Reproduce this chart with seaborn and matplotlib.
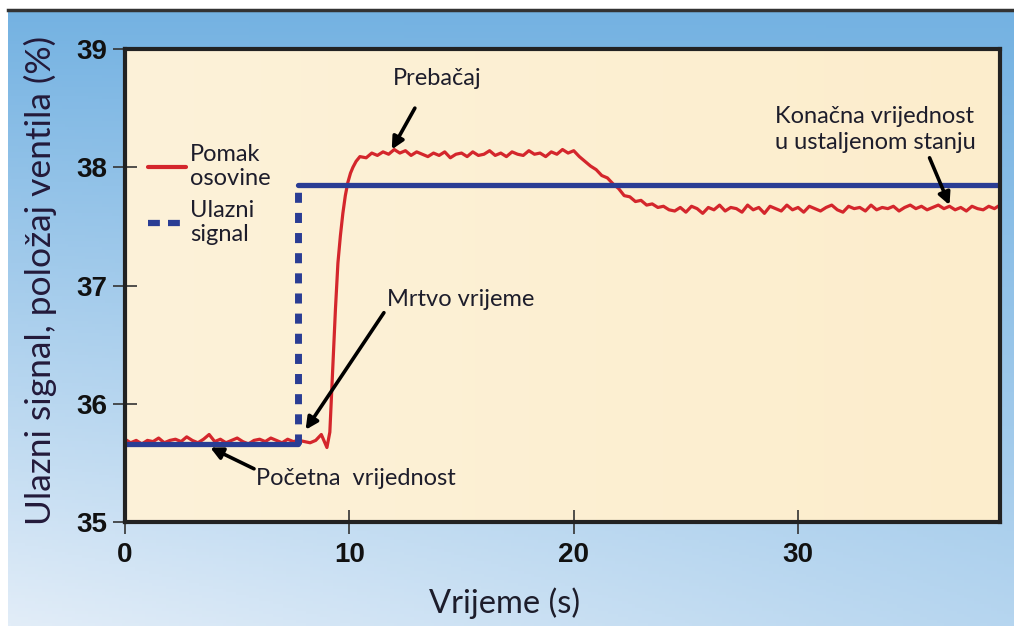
import numpy as np
import pandas as pd
import seaborn as sns
import matplotlib.pyplot as plt
from matplotlib.lines import Line2D
from matplotlib.colors import to_rgb

# measured valve position (red), sampled by hand from the trace
base_v = [35.70, 35.67, 35.69, 35.66, 35.69, 35.68, 35.71, 35.67, 35.69, 35.70,
          35.68, 35.72, 35.69, 35.67, 35.70, 35.74, 35.68, 35.70, 35.67, 35.69,
          35.71, 35.68, 35.66, 35.69, 35.70, 35.68, 35.71, 35.69, 35.67, 35.70,
          35.68, 35.69, 35.68, 35.67, 35.69, 35.74, 35.63]
rise_t = [9.13, 9.27, 9.38, 9.49, 9.60, 9.71, 9.82, 9.93, 10.05, 10.16, 10.30, 10.47]
rise_v = [35.76, 36.34, 36.80, 37.19, 37.42, 37.61, 37.76, 37.87, 37.95, 38.00, 38.05, 38.09]
top_v = [38.08, 38.12, 38.10, 38.13, 38.11, 38.15, 38.12, 38.14, 38.10, 38.13,
         38.11, 38.09, 38.12, 38.10, 38.13, 38.08, 38.11, 38.12, 38.09, 38.13,
         38.10, 38.11, 38.14, 38.10, 38.12, 38.09, 38.13, 38.11, 38.10, 38.14,
         38.11, 38.12, 38.09, 38.13, 38.11, 38.15, 38.12, 38.14, 38.09]
fall_v = [38.05, 38.01, 37.98, 37.93, 37.91, 37.86, 37.82, 37.76, 37.75, 37.71,
          37.72, 37.68, 37.69, 37.66, 37.67, 37.64]
end_v = [37.63, 37.66, 37.62, 37.67, 37.65, 37.61, 37.66, 37.64, 37.68, 37.63,
         37.66, 37.65, 37.62, 37.68, 37.64, 37.66, 37.61, 37.67, 37.65, 37.63,
         37.68, 37.64, 37.66, 37.62, 37.67, 37.65, 37.63, 37.66, 37.68, 37.64,
         37.62, 37.67, 37.65, 37.66, 37.63, 37.68, 37.64, 37.66, 37.65, 37.67,
         37.63, 37.66, 37.68, 37.65, 37.67, 37.64, 37.66, 37.68, 37.65, 37.67,
         37.64, 37.66, 37.63, 37.67, 37.65, 37.64, 37.67, 37.65, 37.68]

# input signal (blue step)
step_time = 7.7
sig_before = 35.66
sig_after = 37.85
t_end = 39.0

x_ticks = [0, 10, 20, 30]
y_ticks = [35, 36, 37, 38, 39]

red_t = np.concatenate([
    np.linspace(0, 9.0, len(base_v)),
    rise_t,
    np.linspace(10.75, 20.25, len(top_v)),
    np.linspace(20.5, 24.25, len(fall_v)),
    np.linspace(24.5, t_end, len(end_v)),
])
red_v = np.concatenate([base_v, rise_v, top_v, fall_v, end_v])
valve = pd.DataFrame({"t": red_t, "v": red_v})

RED = "#d4262c"
BLUE = "#2a3d94"
TXT = "#1d1d2b"
FS = 17

sns.set_theme(style="white")
plt.rcParams["font.family"] = ["Lato", "DejaVu Sans"]

fig = plt.figure(figsize=(10.14, 6.3), dpi=100)

# blue gradient backdrop
yy, xx = np.mgrid[0:1:200j, 0:1:300j]
t = np.clip(yy * (0.6 + 0.4 * (1 - xx)), 0, 1)[..., None]
grad = (1 - t) * np.array(to_rgb("#74b2e2")) + t * np.array(to_rgb("#e2edf8"))
bg = fig.add_axes([8 / 1014, 4 / 630, 1006 / 1014, 616 / 630], zorder=0)
bg.imshow(grad, aspect="auto", extent=[0, 1, 0, 1])
bg.set_xticks([])
bg.set_yticks([])
for s in ["left", "right", "bottom"]:
    bg.spines[s].set_visible(False)
bg.spines["top"].set_linewidth(2.5)
bg.spines["top"].set_color("#333333")

pos = [125 / 1014, 108 / 630, 875 / 1014, 473 / 630]

# cream plot area
pa = fig.add_axes(pos, zorder=1)
cream = np.linspace(0, 1, 300)[None, :, None]
cgrad = (1 - cream) * np.array(to_rgb("#fdf2d9")) + cream * np.array(to_rgb("#fcedcc"))
pa.imshow(np.repeat(cgrad, 10, axis=0), aspect="auto", extent=[0, 1, 0, 1])
pa.axis("off")

ax = fig.add_axes(pos, zorder=2)
ax.patch.set_alpha(0)

sns.lineplot(data=valve, x="t", y="v", ax=ax, color=RED, lw=2.3,
             estimator=None, sort=False)
sns.lineplot(x=[0, step_time], y=[sig_before, sig_before], ax=ax,
             color=BLUE, lw=3.8, estimator=None)
sns.lineplot(x=[step_time, step_time], y=[sig_before, sig_after], ax=ax,
             color=BLUE, lw=5, linestyle=(0, (1.45, 1.45)), estimator=None)
sns.lineplot(x=[step_time, t_end], y=[sig_after, sig_after], ax=ax,
             color=BLUE, lw=3.8, estimator=None)

ax.set_xlim(0, t_end)
ax.set_ylim(35, 39)
ax.set_xticks(x_ticks)
ax.set_yticks(y_ticks)
for lab in ax.get_xticklabels() + ax.get_yticklabels():
    lab.set_family(["Liberation Sans", "DejaVu Sans"])
    lab.set_fontweight("bold")
ax.tick_params(axis="both", direction="inout", length=17, width=1.2,
               color="#333333", labelsize=20, labelcolor="#111111",
               left=True, bottom=True)
ax.tick_params(axis="x", pad=6)
ax.tick_params(axis="y", pad=4)
for s in ax.spines.values():
    s.set_linewidth(3)
    s.set_color("#222222")

ax.set_xlabel("Vrijeme (s)", fontsize=23.5, color=TXT)
ax.xaxis.set_label_coords(0.434, -0.138)
ax.set_ylabel("Ulazni signal, položaj ventila (%)", fontsize=25.5, color="#231a3a")
ax.yaxis.set_label_coords(-0.078, 0.51)

handles = [Line2D([], [], color=RED, lw=3),
           Line2D([], [], color=BLUE, lw=4.5, dashes=(1.9, 1.3))]
ax.legend(handles, ["Pomak\nosovine", "Ulazni\nsignal"], loc="upper left",
          bbox_to_anchor=(0.026, 0.80), frameon=False, fontsize=FS,
          handlelength=1.6, handletextpad=0.2, labelspacing=0.45,
          borderpad=0, borderaxespad=0, labelcolor=TXT)

arrow = dict(arrowstyle="-|>", lw=2.6, color="black", mutation_scale=18,
             shrinkA=0, shrinkB=0)
ax.text(13.9, 38.75, "Prebačaj", fontsize=FS, color=TXT, ha="center", va="center")
ax.annotate("", xy=(11.89, 38.15), xytext=(12.92, 38.50), arrowprops=arrow)

ax.text(11.7, 36.88, "Mrtvo vrijeme", fontsize=FS, color=TXT, ha="left", va="center")
ax.annotate("", xy=(8.05, 35.78), xytext=(11.54, 36.77), arrowprops=arrow)

ax.text(28.95, 38.32, "Konačna vrijednost\nu ustaljenom stanju", fontsize=FS,
        color=TXT, ha="left", va="center", linespacing=1.3)
ax.annotate("", xy=(36.75, 37.68), xytext=(35.86, 38.08), arrowprops=arrow)

ax.text(5.85, 35.37, "Početna  vrijednost", fontsize=FS, color=TXT, ha="left", va="center")
ax.annotate("", xy=(3.8, 35.63), xytext=(5.75, 35.45), arrowprops=arrow)

fig.savefig("out.png", dpi=100)
